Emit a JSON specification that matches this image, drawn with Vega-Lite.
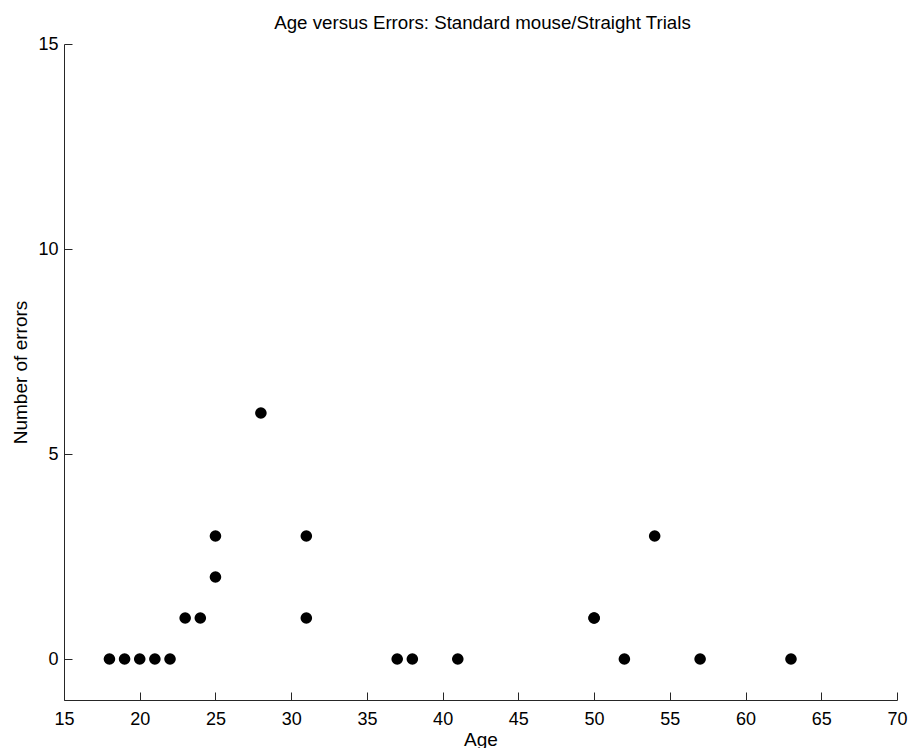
{
  "$schema": "https://vega.github.io/schema/vega-lite/v6.json",
  "width": 833,
  "height": 656,
  "autosize": {"type": "none"},
  "padding": {"left": 64, "top": 44, "right": 12, "bottom": 48},
  "background": "white",
  "title": {
    "text": "Age versus Errors: Standard mouse/Straight Trials",
    "font": "Liberation Sans",
    "fontSize": 18.7,
    "fontWeight": "normal",
    "color": "black",
    "anchor": "middle",
    "baseline": "alphabetic",
    "offset": 14,
    "dx": 2,
    "dy": 27
  },
  "config": {
    "view": {"stroke": null},
    "axis": {
      "grid": false,
      "domainColor": "#262626",
      "domainWidth": 1,
      "tickColor": "#262626",
      "tickWidth": 1,
      "tickSize": -8,
      "labelFont": "Liberation Sans",
      "labelFontSize": 18,
      "labelColor": "black",
      "titleFont": "Liberation Sans",
      "titleFontSize": 19,
      "titleFontWeight": "normal",
      "titleColor": "black"
    }
  },
  "data": {
    "values": [
      {"age": 18, "errors": 0},
      {"age": 19, "errors": 0},
      {"age": 20, "errors": 0},
      {"age": 21, "errors": 0},
      {"age": 22, "errors": 0},
      {"age": 23, "errors": 1},
      {"age": 24, "errors": 1},
      {"age": 25, "errors": 2},
      {"age": 25, "errors": 3},
      {"age": 28, "errors": 6},
      {"age": 31, "errors": 1},
      {"age": 31, "errors": 3},
      {"age": 37, "errors": 0},
      {"age": 38, "errors": 0},
      {"age": 41, "errors": 0},
      {"age": 50, "errors": 1},
      {"age": 50, "errors": 1},
      {"age": 52, "errors": 0},
      {"age": 54, "errors": 3},
      {"age": 57, "errors": 0},
      {"age": 63, "errors": 0}
    ]
  },
  "mark": {"type": "point", "shape": "circle", "filled": true, "color": "black", "opacity": 1, "size": 135},
  "encoding": {
    "x": {
      "field": "age",
      "type": "quantitative",
      "title": "Age",
      "scale": {"domain": [15, 70], "nice": false, "zero": false},
      "axis": {"values": [15, 20, 25, 30, 35, 40, 45, 50, 55, 60, 65, 70], "labelPadding": 18, "titleBaseline": "alphabetic", "titleX": 416.5, "titleY": 45, "titleAlign": "center", "labelFlush": false, "labelOverlap": false}
    },
    "y": {
      "field": "errors",
      "type": "quantitative",
      "title": "Number of errors",
      "scale": {"domain": [-1, 15], "nice": false, "zero": false},
      "axis": {"values": [0, 5, 10, 15], "labelPadding": 14, "titleX": -38, "titleY": 328, "titleAlign": "center", "titleBaseline": "alphabetic", "labelFlush": false, "labelOverlap": false}
    }
  }
}
